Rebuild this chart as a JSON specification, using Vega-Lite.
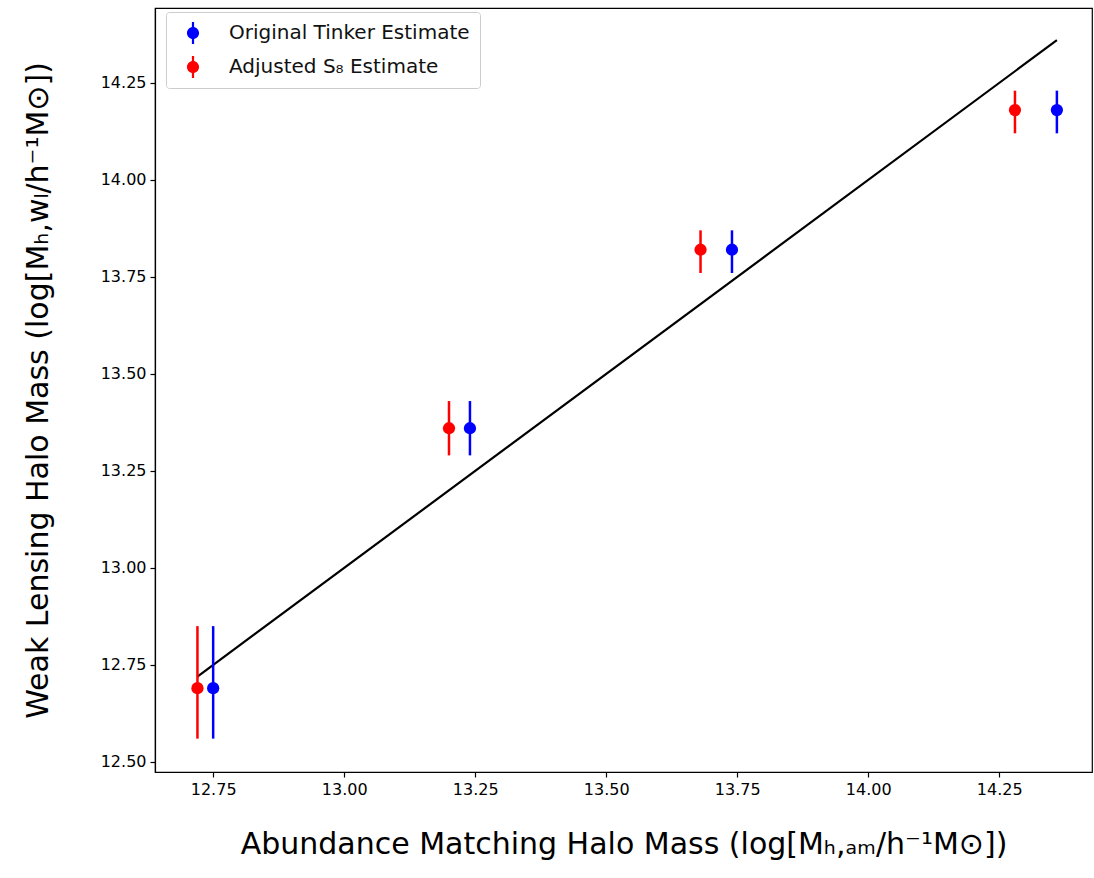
{
  "$schema": "https://vega.github.io/schema/vega-lite/v6.json",
  "autosize": {"type": "none"},
  "padding": {"left": 155, "top": 8, "right": 2, "bottom": 106},
  "width": 937,
  "height": 764,
  "background": "white",
  "config": {
    "font": "DejaVu Sans",
    "view": {"stroke": "black", "strokeWidth": 1.2},
    "axis": {
      "grid": false,
      "domainColor": "black",
      "domainWidth": 1.2,
      "tickColor": "black",
      "tickWidth": 1.2,
      "tickSize": 5,
      "labelColor": "black",
      "labelFont": "DejaVu Sans",
      "labelFontSize": 16,
      "labelPadding": 4,
      "titleColor": "black",
      "titleFont": "DejaVu Sans",
      "titleFontSize": 30,
      "titleFontWeight": "normal"
    }
  },
  "datasets": {
    "halo": [
      {"series": "Original Tinker Estimate", "am": 12.75, "wl": 12.69, "lo": 12.56, "hi": 12.85},
      {"series": "Original Tinker Estimate", "am": 13.24, "wl": 13.36, "lo": 13.29, "hi": 13.43},
      {"series": "Original Tinker Estimate", "am": 13.74, "wl": 13.82, "lo": 13.76, "hi": 13.87},
      {"series": "Original Tinker Estimate", "am": 14.36, "wl": 14.18, "lo": 14.12, "hi": 14.23},
      {"series": "Adjusted S₈ Estimate", "am": 12.72, "wl": 12.69, "lo": 12.56, "hi": 12.85},
      {"series": "Adjusted S₈ Estimate", "am": 13.20, "wl": 13.36, "lo": 13.29, "hi": 13.43},
      {"series": "Adjusted S₈ Estimate", "am": 13.68, "wl": 13.82, "lo": 13.76, "hi": 13.87},
      {"series": "Adjusted S₈ Estimate", "am": 14.28, "wl": 14.18, "lo": 14.12, "hi": 14.23}
    ],
    "oneToOne": [
      {"am": 12.72, "wl": 12.72},
      {"am": 14.36, "wl": 14.36}
    ]
  },
  "layer": [
    {
      "data": {"name": "oneToOne"},
      "mark": {"type": "line", "color": "black", "strokeWidth": 2.2},
      "encoding": {
        "x": {"field": "am", "type": "quantitative"},
        "y": {"field": "wl", "type": "quantitative"}
      }
    },
    {
      "data": {"name": "halo"},
      "mark": {"type": "rule", "strokeWidth": 2.5},
      "encoding": {
        "x": {"field": "am", "type": "quantitative"},
        "y": {"field": "lo", "type": "quantitative"},
        "y2": {"field": "hi"},
        "color": {"field": "series", "type": "nominal"}
      }
    },
    {
      "data": {"name": "halo"},
      "mark": {"type": "point", "filled": true, "opacity": 1, "size": 150, "strokeWidth": 0},
      "encoding": {
        "x": {
          "field": "am",
          "type": "quantitative",
          "scale": {"domain": [12.639, 14.427], "nice": false, "zero": false},
          "axis": {
            "values": [12.75, 13.0, 13.25, 13.5, 13.75, 14.0, 14.25],
            "format": ".2f",
            "title": "Abundance Matching Halo Mass (log[Mₕ,ₐₘ/h⁻¹M⊙])",
            "titlePadding": 32
          }
        },
        "y": {
          "field": "wl",
          "type": "quantitative",
          "scale": {"domain": [12.474, 14.443], "nice": false, "zero": false},
          "axis": {
            "values": [12.5, 12.75, 13.0, 13.25, 13.5, 13.75, 14.0, 14.25],
            "format": ".2f",
            "title": "Weak Lensing Halo Mass (log[Mₕ,wₗ/h⁻¹M⊙])",
            "titlePadding": 47
          }
        },
        "color": {
          "field": "series",
          "type": "nominal",
          "scale": {
            "domain": ["Original Tinker Estimate", "Adjusted S₈ Estimate"],
            "range": ["#0000ff", "#ff0000"]
          },
          "legend": {
            "title": null,
            "orient": "none",
            "legendX": 11,
            "legendY": 4,
            "padding": 10,
            "strokeColor": "#cccccc",
            "fillColor": "white",
            "cornerRadius": 3,
            "rowPadding": 12,
            "labelFont": "DejaVu Sans",
            "labelFontSize": 20,
            "labelColor": "#111111",
            "labelLimit": 0,
            "symbolType": "M-0.55,0A0.55,0.55 0 1,1 0.55,0A0.55,0.55 0 1,1 -0.55,0Z M-0.1,-1L0.1,-1L0.1,1L-0.1,1Z",
            "symbolSize": 484,
            "symbolStrokeWidth": 0,
            "symbolOpacity": 1,
            "symbolOffset": 6,
            "labelOffset": 25
          }
        }
      }
    }
  ]
}
